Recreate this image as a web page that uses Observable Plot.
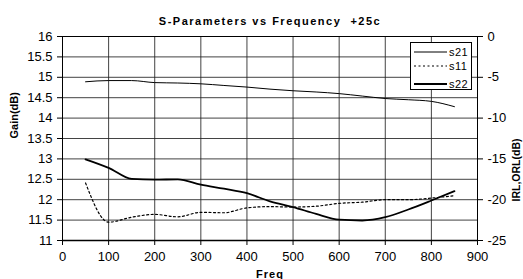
<!DOCTYPE html>
<html>
<head>
<meta charset="utf-8">
<script src="https://cdn.jsdelivr.net/npm/d3@7"></script>
<script src="https://cdn.jsdelivr.net/npm/@observablehq/plot@0.6"></script>
<style>
  html, body { margin: 0; padding: 0; background: #fff; }
  #wrap { position: relative; width: 523px; height: 279px; overflow: hidden; }
  #legend { position: absolute; left: 410px; top: 42px; width: 60px; height: 46px;
    border: 1px solid #000; background: #fff; font: 11px "Liberation Sans", Arial, sans-serif; }
  .item { position: absolute; left: 3px; height: 12px; display: flex; align-items: center; }
  .item span { margin-left: 2px; letter-spacing: 0.5px; }
</style>
</head>
<body>
<div id="wrap"></div>
<script>
const freq = [50, 100, 150, 200, 250, 300, 350, 400, 450, 500, 550, 600, 650, 700, 750, 800, 850];
// Gain (left axis, dB)
const s21 = [14.89, 14.92, 14.92, 14.87, 14.86, 14.84, 14.80, 14.76, 14.71, 14.67, 14.64, 14.60, 14.54, 14.48, 14.45, 14.41, 14.28];
// Return losses (right axis, dB)
const s11 = [-17.95, -22.75, -22.15, -21.8, -22.1, -21.55, -21.6, -21.0, -20.85, -20.9, -20.8, -20.45, -20.3, -20.0, -20.0, -19.8, -19.5];
const s22 = [-15.05, -16.1, -17.45, -17.55, -17.5, -18.15, -18.65, -19.2, -20.2, -20.9, -21.75, -22.45, -22.55, -22.15, -21.2, -20.1, -18.95];

const freqTicks = [0, 100, 200, 300, 400, 500, 600, 700, 800, 900];
const gainTicks = [11, 11.5, 12, 12.5, 13, 13.5, 14, 14.5, 15, 15.5, 16];
const rlTicks = [-25, -20, -15, -10, -5, 0];

const series = ["s21", "s11", "s22"];
const styles = {
  s21: {stroke: "#000", strokeWidth: 1},
  s11: {stroke: "#000", strokeWidth: 1.2, strokeDasharray: "2,2.5"},
  s22: {stroke: "#000", strokeWidth: 1.8}
};

// map right axis (dB) onto left axis scale: -25 -> 11, 0 -> 16
const toLeft = r => 11 + (r + 25) / 5;
const toRight = l => (l - 11) * 5 - 25;

const rows = [];
freq.forEach((f, i) => {
  rows.push({freq: f, series: "s21", v: s21[i]});
  rows.push({freq: f, series: "s11", v: toLeft(s11[i])});
  rows.push({freq: f, series: "s22", v: toLeft(s22[i])});
});

const font = '"Liberation Sans", Arial, sans-serif';

const chart = Plot.plot({
  width: 523,
  height: 279,
  marginLeft: 62,
  marginRight: 46,
  marginTop: 36,
  marginBottom: 39,
  style: {fontFamily: font, fontSize: "13px", color: "#000", background: "#fff", overflow: "visible"},
  x: {domain: [0, 900]},
  y: {domain: [11, 16]},
  marks: [
    Plot.gridX(freqTicks, {stroke: "#222", strokeOpacity: 0.85}),
    Plot.gridY(gainTicks, {stroke: "#222", strokeOpacity: 0.85}),
    Plot.frame({stroke: "#000", strokeWidth: 1}),
    Plot.ruleY([11], {stroke: "#000", strokeWidth: 1.5}),
    Plot.axisX({ticks: freqTicks, tickSize: 5, tickPadding: 6, label: null, tickFormat: d => String(d)}),
    Plot.axisY({ticks: gainTicks, tickSize: 5, tickPadding: 5, label: null, tickFormat: d => String(d)}),
    Plot.axisY({anchor: "right", ticks: rlTicks.map(toLeft), tickSize: 5, tickPadding: 5, label: null,
      tickFormat: d => String(Math.round(toRight(d)))}),
    ...series.map(s => Plot.line(rows.filter(r => r.series === s), {
      x: "freq", y: "v", curve: "monotone-x", ...styles[s]
    })),
    Plot.text(["S-Parameters vs Frequency  +25c"], {frameAnchor: "top", dy: -19, fontWeight: "bold",
      fontSize: 11}),
    Plot.text(["Freq"], {frameAnchor: "bottom", dy: 37, fontWeight: "bold", fontSize: 11}),
    Plot.text(["Gain(dB)"], {frameAnchor: "left", dx: -48, rotate: -90, fontWeight: "bold", fontSize: 11}),
    Plot.text(["IRL,ORL(dB)"], {frameAnchor: "right", dx: 39, rotate: -90, fontWeight: "bold", fontSize: 10.5})
  ]
});

const wrap = document.getElementById("wrap");
wrap.appendChild(chart);

// title letter spacing
chart.querySelectorAll("text").forEach(t => {
  if (t.textContent.startsWith("S-Parameters")) t.setAttribute("letter-spacing", "1.5");
  if (t.textContent === "Freq") t.setAttribute("letter-spacing", "1");
});

// legend
const legend = document.createElement("div");
legend.id = "legend";
const rowsY = [3, 17, 35];
series.forEach((s, i) => {
  const it = document.createElement("div");
  it.className = "item";
  it.style.top = rowsY[i] + "px";
  const st = styles[s];
  it.innerHTML = `<svg width="33" height="12"><line x1="0" x2="33" y1="6" y2="6" stroke="${st.stroke}" stroke-width="${st.strokeWidth}" ${st.strokeDasharray ? `stroke-dasharray="${st.strokeDasharray}"` : ""}/></svg><span>${s}</span>`;
  legend.appendChild(it);
});
wrap.appendChild(legend);
</script>
</body>
</html>
